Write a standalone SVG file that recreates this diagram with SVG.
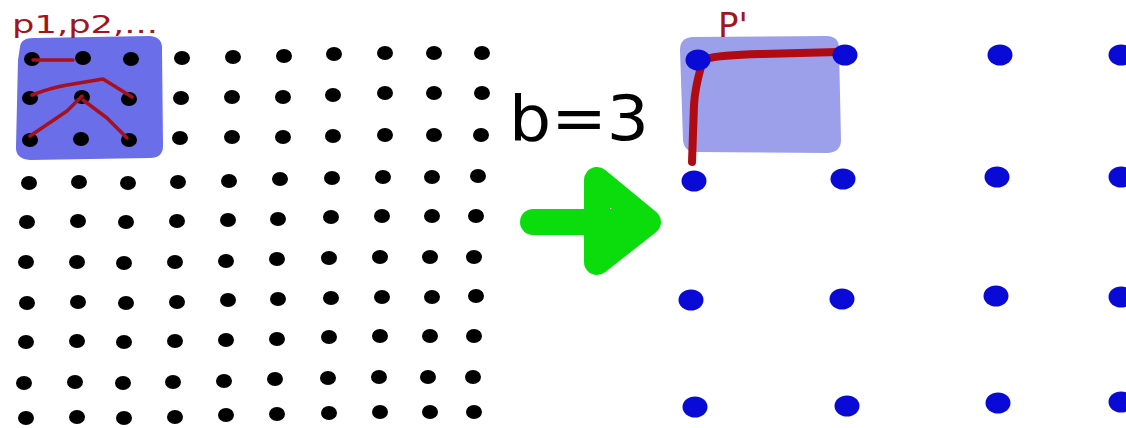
<svg xmlns="http://www.w3.org/2000/svg" width="1126" height="428" viewBox="0 0 1126 428">
<style>
.bd{fill:#000}
.bl{fill:#0a0ad6}
.lbl{font-family:"DejaVu Sans","Liberation Sans",sans-serif}
.red{fill:#a3141e}
.thin{fill:none;stroke:#a8101c;stroke-width:3.5;stroke-linecap:round;stroke-linejoin:round}
.thick{fill:none;stroke:#b00a12;stroke-width:8;stroke-linecap:round;stroke-linejoin:round}
.grn{fill:none;stroke:#0bdc0b;stroke-width:26;stroke-linecap:round;stroke-linejoin:round}
</style>
<rect width="1126" height="428" fill="#fff"/>
<g id="left-region">
<path d="M20,47 Q21,37 36,38 L150,36 Q163,37 162,50 L163,146 Q163,158 150,158 L30,160 Q15,159 16,146 L18,60 Z" fill="#6a6ee8"/>
</g>
<g id="right-region">
<path d="M692,37 Q680,38 680,50 L683,140 Q684,152 696,152 L828,153 Q841,152 841,140 L839,48 Q839,36 826,36 Z" fill="#9ca0ea"/>
</g>
<g id="left-grid">
<ellipse class="bd" cx="32" cy="59" rx="8" ry="7"/><ellipse class="bd" cx="83" cy="58" rx="8" ry="7"/><ellipse class="bd" cx="131" cy="59" rx="8" ry="7"/><ellipse class="bd" cx="182" cy="58" rx="8" ry="7"/><ellipse class="bd" cx="233" cy="57" rx="8" ry="7"/><ellipse class="bd" cx="284" cy="56" rx="8" ry="7"/><ellipse class="bd" cx="334" cy="54" rx="8" ry="7"/><ellipse class="bd" cx="385" cy="53" rx="8" ry="7"/><ellipse class="bd" cx="434" cy="53" rx="8" ry="7"/><ellipse class="bd" cx="482" cy="53" rx="8" ry="7"/>
<ellipse class="bd" cx="30" cy="98" rx="8" ry="7"/><ellipse class="bd" cx="82" cy="97" rx="8" ry="7"/><ellipse class="bd" cx="129" cy="99" rx="8" ry="7"/><ellipse class="bd" cx="181" cy="98" rx="8" ry="7"/><ellipse class="bd" cx="232" cy="97" rx="8" ry="7"/><ellipse class="bd" cx="283" cy="97" rx="8" ry="7"/><ellipse class="bd" cx="333" cy="95" rx="8" ry="7"/><ellipse class="bd" cx="385" cy="93" rx="8" ry="7"/><ellipse class="bd" cx="434" cy="93" rx="8" ry="7"/><ellipse class="bd" cx="482" cy="93" rx="8" ry="7"/>
<ellipse class="bd" cx="30" cy="140" rx="8" ry="7"/><ellipse class="bd" cx="81" cy="139" rx="8" ry="7"/><ellipse class="bd" cx="129" cy="140" rx="8" ry="7"/><ellipse class="bd" cx="180" cy="138" rx="8" ry="7"/><ellipse class="bd" cx="232" cy="137" rx="8" ry="7"/><ellipse class="bd" cx="283" cy="137" rx="8" ry="7"/><ellipse class="bd" cx="333" cy="136" rx="8" ry="7"/><ellipse class="bd" cx="385" cy="135" rx="8" ry="7"/><ellipse class="bd" cx="434" cy="135" rx="8" ry="7"/><ellipse class="bd" cx="481" cy="135" rx="8" ry="7"/>
<ellipse class="bd" cx="29" cy="183" rx="8" ry="7"/><ellipse class="bd" cx="79" cy="182" rx="8" ry="7"/><ellipse class="bd" cx="128" cy="183" rx="8" ry="7"/><ellipse class="bd" cx="178" cy="182" rx="8" ry="7"/><ellipse class="bd" cx="229" cy="181" rx="8" ry="7"/><ellipse class="bd" cx="280" cy="179" rx="8" ry="7"/><ellipse class="bd" cx="332" cy="178" rx="8" ry="7"/><ellipse class="bd" cx="383" cy="177" rx="8" ry="7"/><ellipse class="bd" cx="432" cy="177" rx="8" ry="7"/><ellipse class="bd" cx="478" cy="176" rx="8" ry="7"/>
<ellipse class="bd" cx="27" cy="222" rx="8" ry="7"/><ellipse class="bd" cx="78" cy="221" rx="8" ry="7"/><ellipse class="bd" cx="126" cy="222" rx="8" ry="7"/><ellipse class="bd" cx="177" cy="221" rx="8" ry="7"/><ellipse class="bd" cx="228" cy="220" rx="8" ry="7"/><ellipse class="bd" cx="278" cy="219" rx="8" ry="7"/><ellipse class="bd" cx="331" cy="217" rx="8" ry="7"/><ellipse class="bd" cx="382" cy="216" rx="8" ry="7"/><ellipse class="bd" cx="432" cy="216" rx="8" ry="7"/><ellipse class="bd" cx="476" cy="216" rx="8" ry="7"/>
<ellipse class="bd" cx="26" cy="262" rx="8" ry="7"/><ellipse class="bd" cx="77" cy="262" rx="8" ry="7"/><ellipse class="bd" cx="124" cy="263" rx="8" ry="7"/><ellipse class="bd" cx="175" cy="262" rx="8" ry="7"/><ellipse class="bd" cx="226" cy="261" rx="8" ry="7"/><ellipse class="bd" cx="277" cy="259" rx="8" ry="7"/><ellipse class="bd" cx="329" cy="258" rx="8" ry="7"/><ellipse class="bd" cx="380" cy="257" rx="8" ry="7"/><ellipse class="bd" cx="430" cy="257" rx="8" ry="7"/><ellipse class="bd" cx="474" cy="257" rx="8" ry="7"/>
<ellipse class="bd" cx="27" cy="303" rx="8" ry="7"/><ellipse class="bd" cx="78" cy="302" rx="8" ry="7"/><ellipse class="bd" cx="126" cy="303" rx="8" ry="7"/><ellipse class="bd" cx="177" cy="302" rx="8" ry="7"/><ellipse class="bd" cx="228" cy="300" rx="8" ry="7"/><ellipse class="bd" cx="278" cy="299" rx="8" ry="7"/><ellipse class="bd" cx="331" cy="298" rx="8" ry="7"/><ellipse class="bd" cx="382" cy="297" rx="8" ry="7"/><ellipse class="bd" cx="432" cy="297" rx="8" ry="7"/><ellipse class="bd" cx="476" cy="296" rx="8" ry="7"/>
<ellipse class="bd" cx="26" cy="342" rx="8" ry="7"/><ellipse class="bd" cx="77" cy="341" rx="8" ry="7"/><ellipse class="bd" cx="124" cy="342" rx="8" ry="7"/><ellipse class="bd" cx="175" cy="341" rx="8" ry="7"/><ellipse class="bd" cx="226" cy="340" rx="8" ry="7"/><ellipse class="bd" cx="277" cy="339" rx="8" ry="7"/><ellipse class="bd" cx="329" cy="337" rx="8" ry="7"/><ellipse class="bd" cx="380" cy="336" rx="8" ry="7"/><ellipse class="bd" cx="430" cy="336" rx="8" ry="7"/><ellipse class="bd" cx="474" cy="336" rx="8" ry="7"/>
<ellipse class="bd" cx="24" cy="383" rx="8" ry="7"/><ellipse class="bd" cx="75" cy="382" rx="8" ry="7"/><ellipse class="bd" cx="123" cy="383" rx="8" ry="7"/><ellipse class="bd" cx="173" cy="382" rx="8" ry="7"/><ellipse class="bd" cx="224" cy="381" rx="8" ry="7"/><ellipse class="bd" cx="275" cy="379" rx="8" ry="7"/><ellipse class="bd" cx="328" cy="378" rx="8" ry="7"/><ellipse class="bd" cx="379" cy="377" rx="8" ry="7"/><ellipse class="bd" cx="428" cy="377" rx="8" ry="7"/><ellipse class="bd" cx="473" cy="377" rx="8" ry="7"/>
<ellipse class="bd" cx="26" cy="418" rx="8" ry="7"/><ellipse class="bd" cx="77" cy="417" rx="8" ry="7"/><ellipse class="bd" cx="124" cy="418" rx="8" ry="7"/><ellipse class="bd" cx="175" cy="417" rx="8" ry="7"/><ellipse class="bd" cx="226" cy="415" rx="8" ry="7"/><ellipse class="bd" cx="277" cy="414" rx="8" ry="7"/><ellipse class="bd" cx="329" cy="413" rx="8" ry="7"/><ellipse class="bd" cx="380" cy="412" rx="8" ry="7"/><ellipse class="bd" cx="430" cy="412" rx="8" ry="7"/><ellipse class="bd" cx="474" cy="412" rx="8" ry="7"/>
</g>
<g id="connectors">
<path class="thin" d="M33,60 L73,60"/>
<path class="thin" d="M32,95 Q50,88 67,85 L103,79 L132,97"/>
<path class="thin" d="M30,136 L67,111 L82,96"/>
<path class="thin" d="M83,100 L107,118 L127,138"/>
<path class="thick" d="M705,59 Q720,55 760,54 L838,52"/>
<path class="thick" d="M701,67 Q695,88 694,105 L692,162"/>
</g>
<g id="right-grid">
<ellipse class="bl" cx="698" cy="60" rx="12.5" ry="10.5"/><ellipse class="bl" cx="845" cy="55" rx="12.5" ry="10.5"/><ellipse class="bl" cx="1000" cy="55" rx="12.5" ry="10.5"/><ellipse class="bl" cx="1121" cy="55" rx="12.5" ry="10.5"/>
<ellipse class="bl" cx="694" cy="181" rx="12.5" ry="10.5"/><ellipse class="bl" cx="843" cy="179" rx="12.5" ry="10.5"/><ellipse class="bl" cx="997" cy="177" rx="12.5" ry="10.5"/><ellipse class="bl" cx="1121" cy="177" rx="12.5" ry="10.5"/>
<ellipse class="bl" cx="691" cy="300" rx="12.5" ry="10.5"/><ellipse class="bl" cx="842" cy="299" rx="12.5" ry="10.5"/><ellipse class="bl" cx="996" cy="296" rx="12.5" ry="10.5"/><ellipse class="bl" cx="1121" cy="297" rx="12.5" ry="10.5"/>
<ellipse class="bl" cx="695" cy="407" rx="12.5" ry="10.5"/><ellipse class="bl" cx="847" cy="406" rx="12.5" ry="10.5"/><ellipse class="bl" cx="998" cy="403" rx="12.5" ry="10.5"/><ellipse class="bl" cx="1121" cy="402" rx="12.5" ry="10.5"/>
</g>
<g id="arrow">
<path class="grn" d="M533,222 L640,222"/>
<path class="grn" d="M597,180 L597,262 L648,222 Z" fill="#0bdc0b"/>
</g>
<g id="label-p">
<text class="lbl red" x="12" y="33" font-size="25" textLength="146" lengthAdjust="spacingAndGlyphs">p1,p2,...</text>
</g>
<g id="label-pprime">
<text class="lbl red" x="718" y="37" font-size="34">P'</text>
</g>
<g id="label-b">
<text class="lbl" x="509" y="140" font-size="63" textLength="140" lengthAdjust="spacingAndGlyphs" fill="#000">b=3</text>
</g>
</svg>
